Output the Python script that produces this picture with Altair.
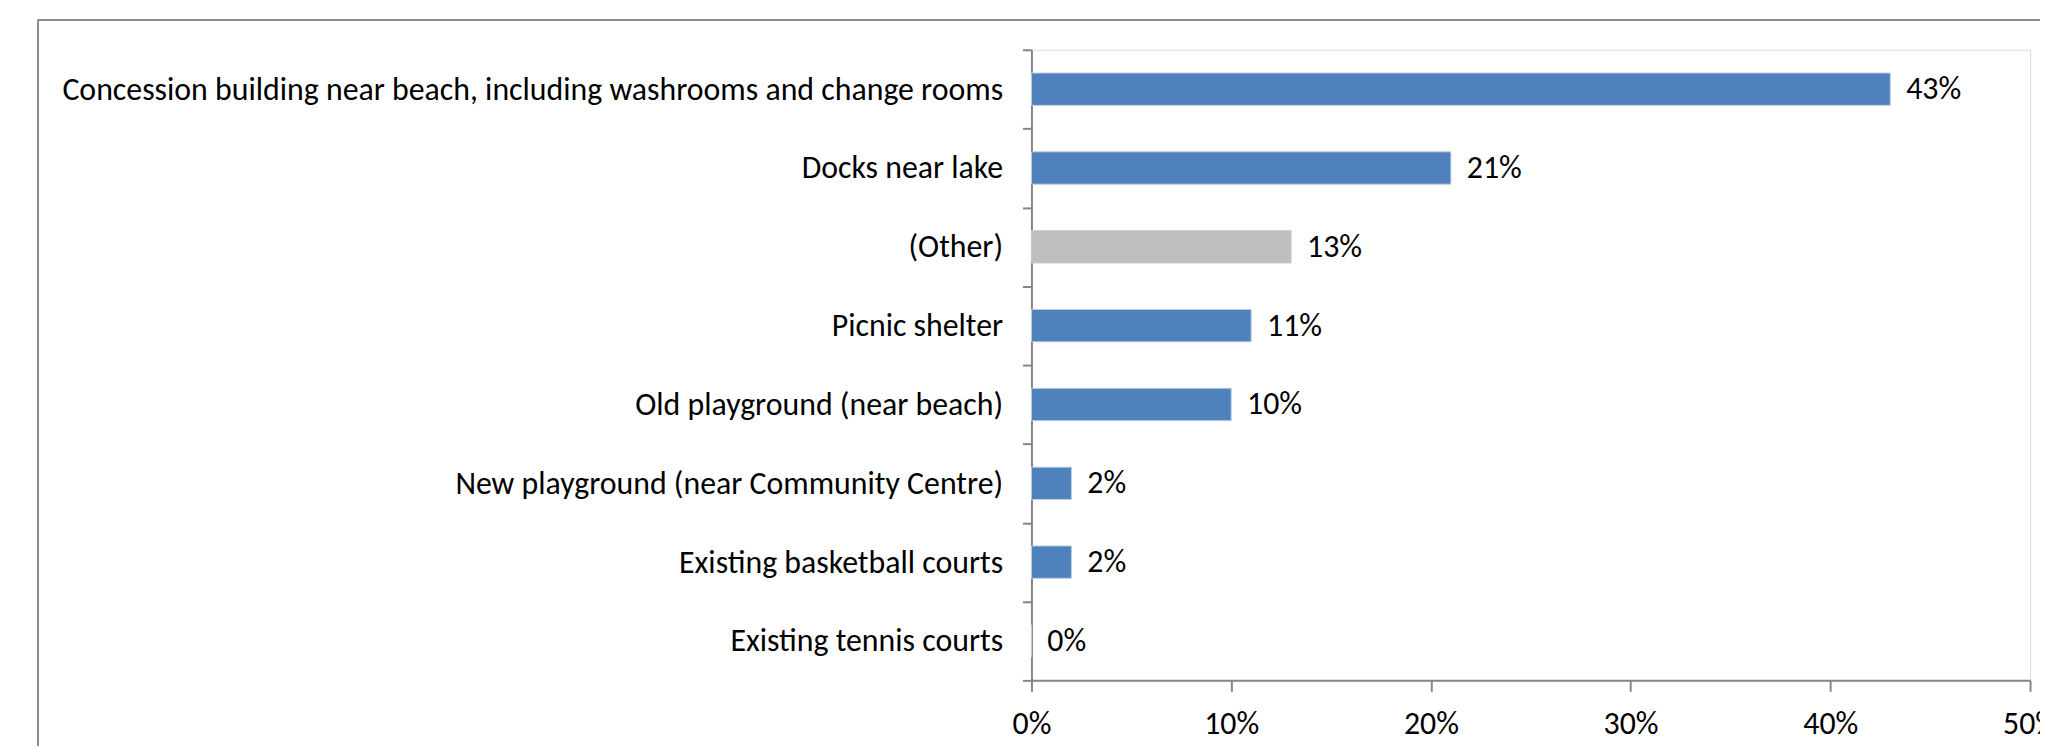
import altair as alt
import pandas as pd

categories = [
    "Concession building near beach, including washrooms and change rooms",
    "Docks near lake",
    "(Other)",
    "Picnic shelter",
    "Old playground (near beach)",
    "New playground (near Community Centre)",
    "Existing basketball courts",
    "Existing tennis courts",
]
shares = [0.43, 0.21, 0.13, 0.11, 0.10, 0.02, 0.02, 0.00]
x_ticks = [0, 0.1, 0.2, 0.3, 0.4, 0.5]

df = pd.DataFrame({"category": categories, "share": shares})

FONT = "Carlito, Lato, sans-serif"
FS = 32
W, H = 1004, 634

y_enc = alt.Y(
    "category:N",
    sort=categories,
    scale=alt.Scale(paddingInner=0, paddingOuter=0),
    axis=alt.Axis(
        title=None,
        tickBand="extent",
        tickSize=9,
        tickColor="#868686",
        tickWidth=2,
        domainColor="#868686",
        domainWidth=2,
        labelFont=FONT,
        labelFontSize=FS,
        labelColor="#000000",
        labelPadding=20,
        labelLimit=1200,
    ),
)
x_enc = alt.X(
    "share:Q",
    scale=alt.Scale(domain=[0, 0.5], nice=False),
    axis=alt.Axis(
        title=None,
        values=x_ticks,
        format=".0%",
        grid=False,
        tickSize=11,
        tickColor="#868686",
        tickWidth=2,
        domainColor="#868686",
        domainWidth=2,
        labelFont=FONT,
        labelFontSize=FS,
        labelColor="#000000",
        labelPadding=17,
        labelFlush=False,
    ),
)

bars = alt.Chart(df).mark_bar(
    stroke="#B9CDE5", strokeWidth=1, height=alt.RelativeBandSize(0.41)
).encode(
    y=y_enc,
    x=x_enc,
    color=alt.condition(
        alt.datum.category == "(Other)", alt.value("#BFBFBF"), alt.value("#4F81BD")
    ),
)

labels = alt.Chart(df).mark_text(
    align="left", baseline="middle", dx=16, font=FONT, fontSize=FS, color="#000000"
).encode(
    y=alt.Y("category:N", sort=categories),
    x="share:Q",
    text=alt.Text("share:Q", format=".0%"),
)

frame_top = alt.Chart(df).mark_rule(color="#8C8C8C", strokeWidth=1.5).encode(
    x=alt.value(-999), x2=alt.value(1020), y=alt.value(-30)
)
frame_left = alt.Chart(df).mark_rule(color="#8C8C8C", strokeWidth=1.5).encode(
    x=alt.value(-999), y=alt.value(-30), y2=alt.value(700)
)

chart = (
    alt.layer(frame_top, frame_left, bars, labels)
    .properties(
        width=W,
        height=H,
        autosize=alt.AutoSizeParams(type="none"),
        padding={"left": 1029, "top": 40, "right": 10, "bottom": 65},
    )
    .configure_view(stroke=None)
    .configure(background="#FFFFFF")
)

chart.save("out.html", embed_options={"renderer": "svg", "actions": False})
